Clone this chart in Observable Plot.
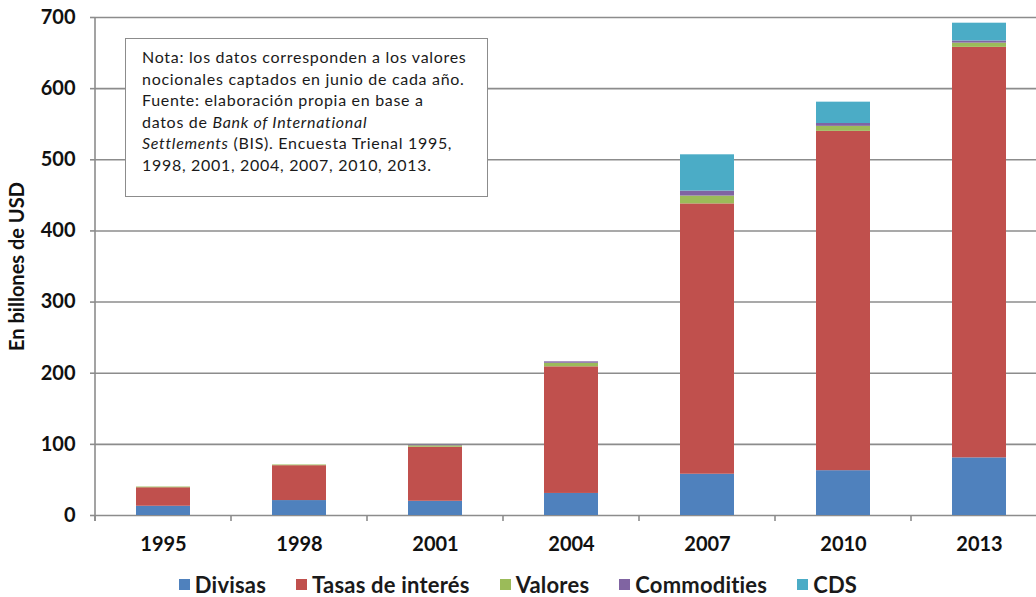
<!DOCTYPE html>
<html>
<head>
<meta charset="utf-8">
<script src="https://cdn.jsdelivr.net/npm/d3@7"></script>
<script src="https://cdn.jsdelivr.net/npm/@observablehq/plot@0.6"></script>
<style>
  html, body { margin: 0; padding: 0; background: #fff; }
  #wrap { position: relative; width: 1036px; height: 597px; font-family: Lato, "Open Sans", sans-serif; }
  #note {
    position: absolute; left: 125px; top: 38px; width: 339px; height: 145px;
    border: 1.5px solid #8c8c8c; background: #fff; padding: 7px 6px 5px 16px;
    font-size: 16px; line-height: 21.6px; letter-spacing: 0.7px; color: #1a1a1a; box-sizing: content-box;
    white-space: nowrap;
  }
  #legend {
    position: absolute; left: 0; top: 571px; width: 1036px; display: flex; justify-content: center;
    gap: 30px; font-size: 22px; font-weight: bold; color: #1a1a1a; letter-spacing: 0.2px;
  }
  #legend .item { display: flex; align-items: center; gap: 5px; }
  #legend .sw { width: 11px; height: 11px; display: inline-block; }
</style>
</head>
<body>
<div id="wrap">
  <div id="chart"></div>
  <div id="note"></div>
  <div id="legend"></div>
</div>
<script>
// ---- data ----
const years = ["1995", "1998", "2001", "2004", "2007", "2010", "2013"];
const series = ["Divisas", "Tasas de interés", "Valores", "Commodities", "CDS"];
const colors = ["#4F81BD", "#C0504D", "#9BBB59", "#8064A2", "#4BACC6"];
const divisas     = [13, 21, 20, 31, 58, 63, 81];
const tasas       = [26, 49, 76, 178, 380, 477, 577];
const valores     = [1, 1, 2, 5, 11, 7, 6];
const commodities = [0, 0, 1, 2, 7, 4, 3];
const cds         = [0, 0, 0, 0, 51, 30, 25];
const yTicks = [0, 100, 200, 300, 400, 500, 600, 700];
const yLabel = "En billones de USD";
const noteLines = [
  "Nota: los datos corresponden a los valores",
  "nocionales captados en junio de cada año.",
  "Fuente: elaboración propia en base a",
  "datos de <i>Bank of International</i>",
  "<i>Settlements</i> (BIS). Encuesta Trienal 1995,",
  "1998, 2001, 2004, 2007, 2010, 2013."
];

const valuesBySeries = [divisas, tasas, valores, commodities, cds];
const data = [];
years.forEach((yr, i) => {
  series.forEach((s, j) => data.push({year: yr, serie: s, value: valuesBySeries[j][i]}));
});

const chart = Plot.plot({
  width: 1036,
  height: 560,
  marginLeft: 95,
  marginRight: -11,
  marginTop: 17,
  marginBottom: 45,
  style: {fontFamily: "Lato, 'Open Sans', sans-serif", color: "#111", background: "transparent"},
  x: {domain: years, paddingInner: 0.6, paddingOuter: 0.3, align: 0.5},
  y: {domain: [0, 700]},
  color: {domain: series, range: colors},
  marks: [
    Plot.gridY(yTicks, {stroke: "#8c8c8c", strokeOpacity: 1, strokeWidth: 1.6}),
    Plot.barY(data, {x: "year", y: "value", fill: "serie"}),
    Plot.axisY({
      ticks: yTicks, tickSize: 5, tickPadding: 15, fontSize: 20, fontWeight: "bold",
      stroke: "#8c8c8c", strokeWidth: 1.6, strokeOpacity: 1,
      label: yLabel, labelAnchor: "center", labelArrow: "none", labelOffset: 86
    }),
    Plot.axisX({tickSize: 0, tickPadding: 21, fontSize: 20, fontWeight: "bold", label: null})
  ]
});
document.getElementById("chart").appendChild(chart);

// axis label style
d3.select(chart).selectAll("[aria-label='y-axis label'] text")
  .style("font-size", "20px").style("font-weight", "bold");
d3.select(chart).selectAll("[aria-label='y-axis tick label'] text, [aria-label='x-axis tick label'] text")
  .attr("fill", "#111");

// y axis line and category boundary ticks derived from the scales
const xs = chart.scale("x"), ys = chart.scale("y");
const bw = xs.bandwidth, step = xs.step;
const bounds = years.map(yr => xs.apply(yr) + bw / 2 - step / 2);
const g = d3.select(chart).append("g").attr("stroke", "#8c8c8c").attr("stroke-width", 1.6);
g.append("line").attr("x1", bounds[0]).attr("x2", bounds[0]).attr("y1", ys.apply(700)).attr("y2", ys.apply(0) + 6);
bounds.forEach(b => g.append("line").attr("x1", b).attr("x2", b).attr("y1", ys.apply(0)).attr("y2", ys.apply(0) + 6));

// note box
document.getElementById("note").innerHTML = noteLines.join("<br>");

// legend
const leg = d3.select("#legend");
series.forEach((s, j) => {
  const it = leg.append("div").attr("class", "item");
  it.append("span").attr("class", "sw").style("background", colors[j]);
  it.append("span").text(s);
});
</script>
</body>
</html>
